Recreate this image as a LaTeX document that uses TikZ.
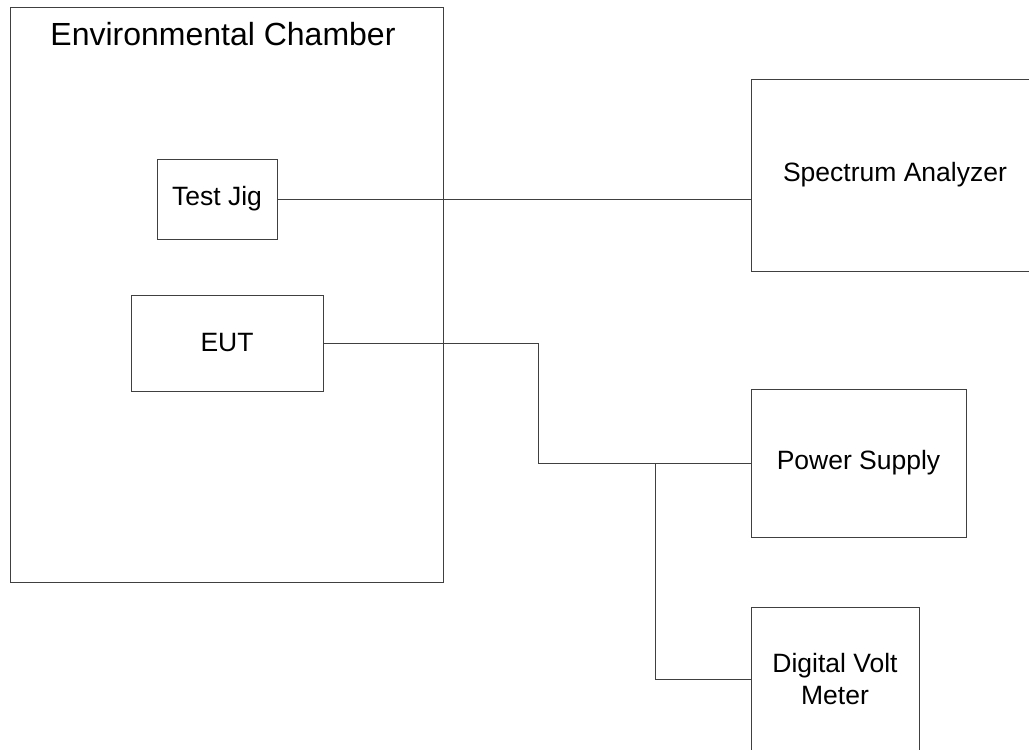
\documentclass[tikz,border=0pt]{standalone}
\usepackage{fontspec}
\setmainfont{Liberation Sans}
\usetikzlibrary{positioning}

\begin{document}
\begin{tikzpicture}[
			x=1pt, y=-1pt,
			box/.style={draw=black!75, line width=1pt, align=center, inner sep=0pt, font=\fontsize{26.5}{32}\selectfont},
			title/.style={anchor=base, font=\fontsize{32}{38}\selectfont},
			wire/.style={draw=black!75, line width=1pt}
			]
			\useasboundingbox (0,0) rectangle (1029,750);
			
			% Chamber and its contents
			\node[box, minimum width=433, minimum height=575] (chamber) at (226.5, 294.5) {};
			\node[title] (chambertitle) at (223, 45) {Environmental Chamber};
			\node[box, minimum width=120, minimum height=80] (testjig) at (217, 199) {Test Jig};
			\node[box, minimum width=192, minimum height=96] (eut) at (227, 343) {EUT};
			
			% Instruments outside
			\node[box, minimum width=288, minimum height=192] (analyzer) at (895, 175) {Spectrum Analyzer};
			\node[box, minimum width=215, minimum height=148] (supply) at (858.5, 463) {Power Supply};
			\node[box, minimum width=168, minimum height=144] (voltmeter) at (835, 679) {Digital Volt\\Meter};
			
			% Cabling
			\coordinate (bend) at (538, 463);
			\coordinate (tee) at (655, 463);
			\draw[wire] (testjig.east) -- (analyzer.west |- testjig.east);
			\draw[wire] (eut.east) -| (bend) -- (supply.west);
			\draw[wire] (tee) |- (voltmeter.west);
			
		\end{tikzpicture}
\end{document}
